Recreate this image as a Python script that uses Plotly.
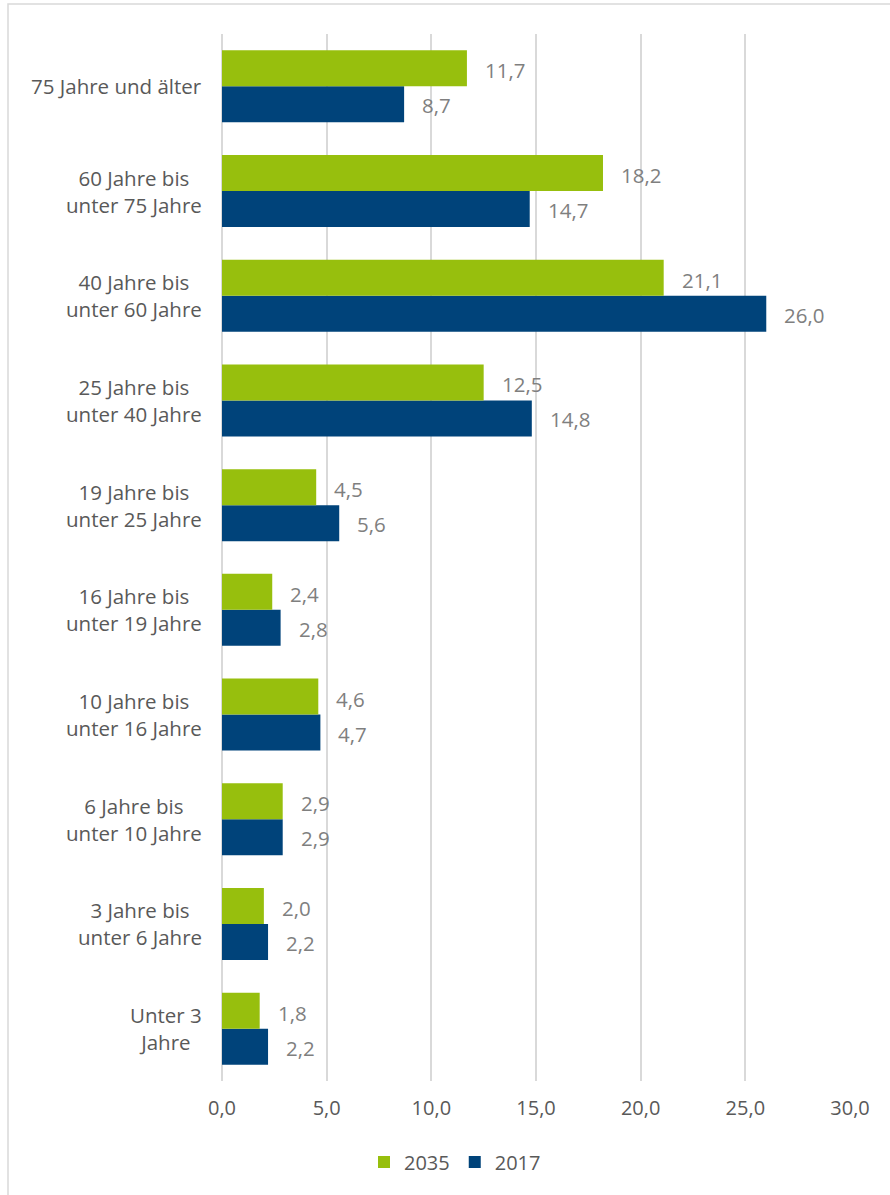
import plotly.graph_objects as go

categories = [
    "Unter 3<br>Jahre",
    "3 Jahre bis<br>unter 6 Jahre",
    "6 Jahre bis<br>unter 10 Jahre",
    "10 Jahre bis<br>unter 16 Jahre",
    "16 Jahre bis<br>unter 19 Jahre",
    "19 Jahre bis<br>unter 25 Jahre",
    "25 Jahre bis<br>unter 40 Jahre",
    "40 Jahre bis<br>unter 60 Jahre",
    "60 Jahre bis<br>unter 75 Jahre",
    "75 Jahre und älter",
]
values_2035 = [1.8, 2.0, 2.9, 4.6, 2.4, 4.5, 12.5, 21.1, 18.2, 11.7]
values_2017 = [2.2, 2.2, 2.9, 4.7, 2.8, 5.6, 14.8, 26.0, 14.7, 8.7]
x_ticks = [0, 5, 10, 15, 20, 25, 30]

GREEN = "#97BF0D"
BLUE = "#00437A"
FONT = "Open Sans"

W, H = 890, 1195
ML, MR, MT, MB = 222, 40, 34, 114
PW, PH = W - ML - MR, H - MT - MB

def fmt(v):
    return f"{v:.1f}".replace(".", ",")

fig = go.Figure()
fig.add_trace(go.Bar(
    y=categories, x=values_2017, orientation="h", name="2017",
    marker=dict(color=BLUE, line=dict(width=0)), legendrank=2,
))
fig.add_trace(go.Bar(
    y=categories, x=values_2035, orientation="h", name="2035",
    marker=dict(color=GREEN, line=dict(width=0)), legendrank=1,
))

annotations = []
for c, v in zip(categories, values_2035):
    annotations.append(dict(x=v, y=c, xref="x", yref="y", text=fmt(v),
                            showarrow=False, xanchor="left", yanchor="middle",
                            xshift=16, yshift=16,
                            font=dict(family=FONT, size=20.5, color="#7F7F7F")))
for c, v in zip(categories, values_2017):
    annotations.append(dict(x=v, y=c, xref="x", yref="y", text=fmt(v),
                            showarrow=False, xanchor="left", yanchor="middle",
                            xshift=16, yshift=-19,
                            font=dict(family=FONT, size=20.5, color="#7F7F7F")))
# category labels, centred lines, right edge at x=201px
for c in categories:
    annotations.append(dict(x=(204 - ML) / PW, y=c, xref="paper", yref="y",
                            text=c, showarrow=False, xanchor="right",
                            yanchor="middle", align="center",
                            font=dict(family=FONT, size=20.5, color="#595959")))

def px_x(p):
    return (p - ML) / PW

def px_y(p):
    return (H - MB - p) / PH

shapes = [dict(type="rect", xref="paper", yref="paper",
               x0=px_x(8), x1=px_x(905), y0=px_y(1210), y1=px_y(4),
               line=dict(color="#D9D9D9", width=1.5), fillcolor="rgba(0,0,0,0)",
               layer="below")]

fig.update_layout(
    width=W, height=H,
    margin=dict(l=ML, r=MR, t=MT, b=MB, pad=0),
    paper_bgcolor="white", plot_bgcolor="white",
    barmode="group", bargap=0.312, bargroupgap=0,
    separators=",.",
    font=dict(family=FONT, size=20, color="#595959"),
    xaxis=dict(range=[0, 30], tickvals=x_ticks, tickformat=".1f",
               showgrid=True, gridcolor="#D9D9D9", gridwidth=1.5,
               zeroline=True, zerolinecolor="#D9D9D9", zerolinewidth=1.5,
               showline=False, ticks="", ticklabelstandoff=13,
               tickfont=dict(family=FONT, size=20, color="#595959"),
               fixedrange=True),
    yaxis=dict(categoryorder="array", categoryarray=categories,
               range=[-0.5, len(categories) - 0.5], showticklabels=False,
               showgrid=False, zeroline=False, showline=False, ticks=""),
    legend=dict(orientation="h", x=px_x(455), y=px_y(1162),
                xanchor="center", yanchor="middle",
                font=dict(family=FONT, size=20, color="#595959"),
                itemwidth=30, traceorder="normal"),
    annotations=annotations,
    shapes=shapes,
)

fig.write_html("out.html")
